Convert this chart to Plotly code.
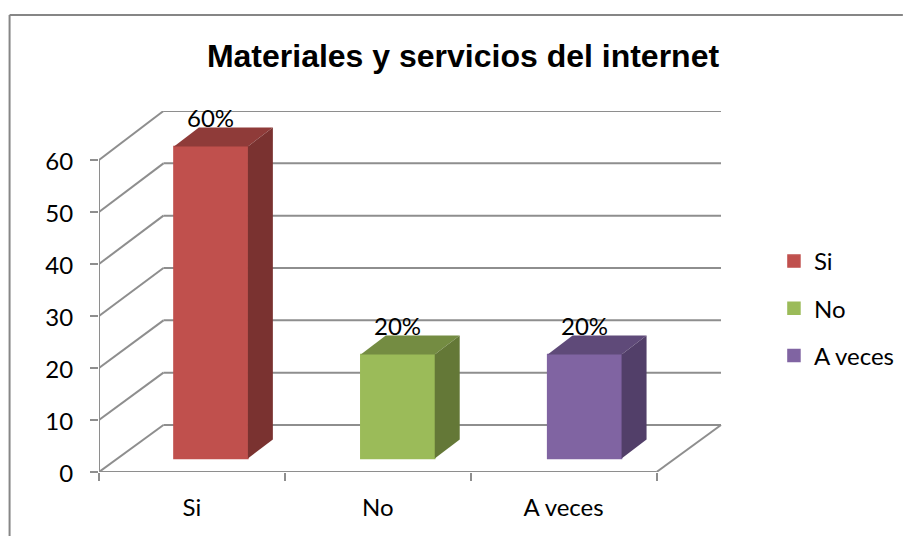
import plotly.graph_objects as go

categories = ["Si", "No", "A veces"]
values = [60, 20, 20]
labels = ["60%", "20%", "20%"]
y_ticks = [0, 10, 20, 30, 40, 50, 60]

front_colors = ["#C0504D", "#9BBB59", "#8064A2"]
top_colors = ["#8F3B39", "#748C42", "#5F4A79"]
side_colors = ["#7A3230", "#647837", "#523F69"]

# pixel layout of the page
W, H = 903, 536
left, right, top, bottom = 98.5, 723, 111, 472
x_unit = 186.0  # px per category
y_unit = 5.2  # px per value unit

# fake 3d offsets, in axis units
wall_dx = 64.5 / x_unit
wall_dy = (bottom - 425) / y_unit
wall_scale = 1.0064  # back wall is very slightly taller than the front edge
bar_dx = 25 / x_unit
bar_dy = 19 / y_unit
bar_shift = 19 / x_unit
bar_step = 187 / x_unit  # bars are spaced a hair wider than the ticks
bar_lift = 13.5 / y_unit
bar_width = 74 / x_unit

xs = list(range(len(categories)))
bar_xs = [x * bar_step + bar_shift for x in xs]
x_min, x_end = -0.5, len(categories) - 0.5
x_max = x_min + (right - left) / x_unit
y_max = (bottom - top) / y_unit

grid = dict(color="#8E8E8E", width=2)
shapes = []
for t in y_ticks:
    # back wall line and the diagonal down to the front edge
    wall_y = t * wall_scale + wall_dy
    shapes.append(dict(type="line", xref="x", yref="y", layer="below", line=grid,
                       x0=x_min + wall_dx, x1=x_end + wall_dx, y0=wall_y, y1=wall_y))
    shapes.append(dict(type="line", xref="x", yref="y", layer="below", line=grid,
                       x0=x_min, x1=x_min + wall_dx, y0=t, y1=wall_y))
shapes.append(dict(type="line", xref="x", yref="y", layer="below", line=grid,
                   x0=x_min, x1=x_min, y0=0, y1=y_ticks[-1]))
shapes.append(dict(type="line", xref="x", yref="y", layer="below", line=grid,
                   x0=x_min, x1=x_end, y0=0, y1=0))
shapes.append(dict(type="line", xref="x", yref="y", layer="below", line=grid,
                   x0=x_end, x1=x_end + wall_dx, y0=0, y1=wall_dy))

# outer chart frame, only top and left show in the crop
px_x = lambda p: (p - left) / (right - left)
px_y = lambda p: (bottom - p) / (bottom - top)
frame = dict(color="#868686", width=2)
shapes.append(dict(type="line", xref="paper", yref="paper", line=frame,
                   x0=px_x(9), x1=px_x(W), y0=px_y(15), y1=px_y(15)))
shapes.append(dict(type="line", xref="paper", yref="paper", line=frame,
                   x0=px_x(9), x1=px_x(9), y0=px_y(15), y1=px_y(H)))

fig = go.Figure()

for i, cat in enumerate(categories):
    fig.add_trace(go.Bar(
        x=[bar_xs[i]], y=[values[i]], base=[bar_lift], width=[bar_width], name=cat,
        legendgroup=cat, marker=dict(color=front_colors[i], line=dict(color=front_colors[i], width=1.5)),
    ))

for i, cat in enumerate(categories):
    x0 = bar_xs[i] - bar_width / 2
    x1 = bar_xs[i] + bar_width / 2
    y0 = bar_lift
    y1 = bar_lift + values[i]
    fig.add_trace(go.Scatter(
        x=[x0, x1, x1 + bar_dx, x0 + bar_dx, x0], y=[y1, y1, y1 + bar_dy, y1 + bar_dy, y1],
        mode="lines", fill="toself", fillcolor=top_colors[i], line=dict(width=0),
        showlegend=False, hoverinfo="skip",
    ))
    fig.add_trace(go.Scatter(
        x=[x1, x1 + bar_dx, x1 + bar_dx, x1, x1], y=[y0, y0 + bar_dy, y1 + bar_dy, y1, y0],
        mode="lines", fill="toself", fillcolor=side_colors[i], line=dict(width=0),
        showlegend=False, hoverinfo="skip",
    ))

annotations = [
    dict(x=bar_xs[i], y=bar_lift + values[i], xref="x", yref="y", text=labels[i],
         showarrow=False, yanchor="middle", yshift=29, font=dict(family="Lato", size=24, color="#000000"))
    for i in range(len(categories))
]

fig.update_layout(
    width=W, height=H, autosize=False,
    margin=dict(l=left, r=W - right, t=top, b=H - bottom, pad=0, autoexpand=False),
    paper_bgcolor="white", plot_bgcolor="white",
    font=dict(family="Lato", size=24, color="#000000"),
    title=dict(text="<b>Materiales y servicios del internet</b>", xref="container", yref="container",
               x=463 / W, y=1 - 56 / H, xanchor="center", yanchor="middle",
               font=dict(family="Liberation Sans", size=32, color="#000000")),
    shapes=shapes, annotations=annotations, barmode="overlay",
    legend=dict(x=px_x(774), y=px_y(239), xanchor="left", yanchor="top", tracegroupgap=13,
                itemwidth=30, font=dict(family="Lato", size=24)),
)
fig.update_xaxes(range=[x_min, x_max], tickmode="array", tickvals=xs, ticktext=categories,
                 ticks="outside", ticklen=14, tickcolor="rgba(0,0,0,0)", showgrid=False, zeroline=False, showline=False,
                 minor=dict(tickmode="array", tickvals=[x_min + k for k in range(len(categories) + 1)],
                            ticks="outside", ticklen=8, tickwidth=2, tickcolor="#8E8E8E", showgrid=False))
fig.update_yaxes(range=[0, y_max], tickmode="array", tickvals=y_ticks, ticks="outside", ticklen=8, tickwidth=2,
                 tickcolor="#8E8E8E", showgrid=False, zeroline=False, showline=False, ticklabelstandoff=12,
                 ticklabelshift=2)

fig.write_html("out.html", config=dict(displayModeBar=False),
               post_script="document.body.style.margin='0';document.documentElement.style.overflow='hidden';")
